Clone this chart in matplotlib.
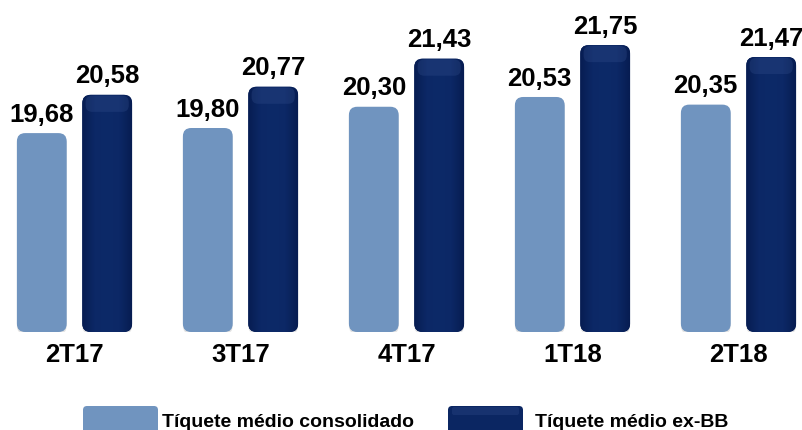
import numpy as np
import matplotlib.pyplot as plt
from matplotlib.patches import FancyBboxPatch
from matplotlib.colors import LinearSegmentedColormap

plt.rcParams['font.family'] = ['Liberation Sans', 'DejaVu Sans']

# dados
trimestres = ['2T17', '3T17', '4T17', '1T18', '2T18']
consolidado = [19.68, 19.80, 20.30, 20.53, 20.35]
ex_bb = [20.58, 20.77, 21.43, 21.75, 21.47]
nomes = ['Tíquete médio consolidado', 'Tíquete médio ex-BB']

cor_clara = '#7094bf'
cor_escura = '#0b2662'
cmap_escura = LinearSegmentedColormap.from_list('esc', ['#071d52', '#0c2866', '#0d2a68', '#0c2866', '#071d52'])

fig = plt.figure(figsize=(8.02, 4.30), dpi=100)
ax = fig.add_axes([0, 1 - 332 / 430, 1, 332 / 430])
ax.set_xlim(-74.5 / 166, (802 - 74.5) / 166)
ax.set_ylim(15, 15 + 332 / 42.5)
ax.axis('off')

x = np.arange(len(trimestres))
larg = 0.30
desl = 0.197
aspecto = 166 / 42.5
raio = 0.05


def barra_arredondada(xc, altura, cor, gradiente=False):
    base = ax.get_ylim()[0]
    sombra = FancyBboxPatch((xc - larg / 2, base - 0.05), larg, altura - base,
                            boxstyle=f'round,pad=0,rounding_size={raio}',
                            mutation_aspect=aspecto, fc='#c8c8c8', ec='none', alpha=0.5, zorder=1)
    ax.add_patch(sombra)
    p = FancyBboxPatch((xc - larg / 2, base), larg, altura - base,
                       boxstyle=f'round,pad=0,rounding_size={raio}',
                       mutation_aspect=aspecto, fc=cor, ec='none', zorder=2)
    ax.add_patch(p)
    if gradiente:
        grad = np.tile(np.linspace(0, 1, 50), (30, 1))
        im = ax.imshow(grad, cmap=cmap_escura, aspect='auto', zorder=3,
                       extent=(xc - larg / 2, xc + larg / 2, base, altura))
        im.set_clip_path(p)
        # brilho no topo
        topo = FancyBboxPatch((xc - larg / 2 + 0.02, altura - 0.40), larg - 0.04, 0.38,
                              boxstyle=f'round,pad=0,rounding_size={raio * 0.8}',
                              mutation_aspect=aspecto, fc='#34508e', ec='none', alpha=0.3, zorder=4)
        ax.add_patch(topo)
        topo.set_clip_path(p)
    return p


for i in range(len(trimestres)):
    barra_arredondada(x[i] - desl, consolidado[i], cor_clara)
    barra_arredondada(x[i] + desl, ex_bb[i], cor_escura, gradiente=True)
    ax.text(x[i] - desl, consolidado[i] + 0.27, f'{consolidado[i]:.2f}'.replace('.', ','),
            ha='center', va='baseline', fontsize=18.5, fontweight='bold', zorder=5)
    ax.text(x[i] + desl, ex_bb[i] + 0.27, f'{ex_bb[i]:.2f}'.replace('.', ','),
            ha='center', va='baseline', fontsize=18.5, fontweight='bold', zorder=5)
    ax.text(x[i], 15 - 30 / 42.5, trimestres[i], ha='center', va='baseline',
            fontsize=18.5, fontweight='bold', clip_on=False)

# legenda
leg_ax = fig.add_axes([0, 0, 1, 1], zorder=-1)
leg_ax.set_xlim(0, 802)
leg_ax.set_ylim(430, 0)
leg_ax.axis('off')
p1 = FancyBboxPatch((83, 406), 75, 28, boxstyle='round,pad=0,rounding_size=4',
                    fc=cor_clara, ec='none')
leg_ax.add_patch(p1)
p2 = FancyBboxPatch((448, 406), 75, 28, boxstyle='round,pad=0,rounding_size=4',
                    fc=cor_escura, ec='none')
leg_ax.add_patch(p2)
leg_ax.add_patch(FancyBboxPatch((452, 407), 67, 8, boxstyle='round,pad=0,rounding_size=2',
                                fc='#34508e', ec='none', alpha=0.3))
leg_ax.text(162, 427, nomes[0], ha='left', va='baseline', fontsize=14, fontweight='bold')
leg_ax.text(535, 427, nomes[1], ha='left', va='baseline', fontsize=14, fontweight='bold')

fig.savefig('out.png', dpi=100)
